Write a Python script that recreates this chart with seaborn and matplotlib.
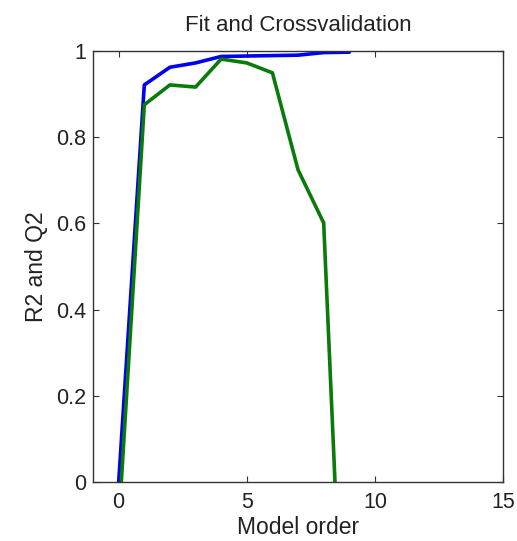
import pandas as pd
import seaborn as sns
import matplotlib.pyplot as plt

# Values
model_order = [0, 1, 2, 3, 4, 5, 6, 7, 8, 9]
r2_fit = [0.0, 0.921, 0.962, 0.972, 0.987, 0.988, 0.989, 0.990, 0.996, 0.997]
q2_cv = [-0.10, 0.875, 0.921, 0.916, 0.981, 0.972, 0.949, 0.724, 0.601, -0.76]

x_ticks = [0, 5, 10, 15]
y_ticks = [0, 0.2, 0.4, 0.6, 0.8, 1]
y_tick_labels = ["0", "0.2", "0.4", "0.6", "0.8", "1"]


def main():
    df = pd.concat([
        pd.DataFrame({"order": model_order, "value": r2_fit, "series": "R2"}),
        pd.DataFrame({"order": model_order, "value": q2_cv, "series": "Q2"}),
    ], ignore_index=True)

    sns.set_style("ticks")
    plt.rcParams["font.family"] = ["Liberation Sans", "DejaVu Sans"]

    fig = plt.figure(figsize=(5.17, 5.41), dpi=100)
    ax = fig.add_axes([0.180, 0.109, 0.793, 0.797])

    sns.lineplot(data=df, x="order", y="value", hue="series",
                 palette={"R2": "#0000ee", "Q2": "#0a7a0a"},
                 linewidth=2.6, legend=False, ax=ax, sort=False)

    ax.set_xlim(-1, 15)
    ax.set_ylim(0, 1)
    ax.set_xticks(x_ticks)
    ax.set_yticks(y_ticks)
    ax.set_yticklabels(y_tick_labels)
    ax.tick_params(direction="in", top=True, right=True, length=4,
                   labelsize=15.5, color="#333333", labelcolor="#222222")
    ax.tick_params(axis="x", pad=7)
    ax.tick_params(axis="y", pad=5)
    for s in ax.spines.values():
        s.set_color("#333333")
        s.set_linewidth(1.0)

    ax.set_title("Fit and Crossvalidation", fontsize=16, color="#222222", pad=14)
    ax.set_xlabel("Model order", fontsize=16.5, color="#222222", labelpad=2)
    ax.set_ylabel("R2 and Q2", fontsize=16.5, color="#222222", labelpad=6)

    fig.savefig("out.png", dpi=100)


if __name__ == "__main__":
    main()
